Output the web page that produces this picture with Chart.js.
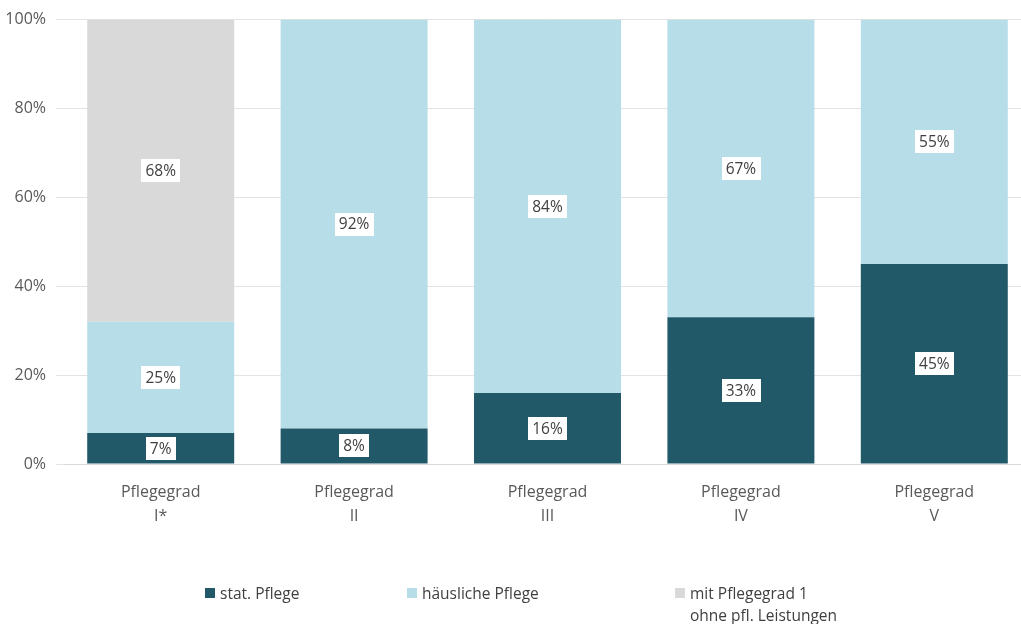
<!DOCTYPE html>
<html lang="de">
<head>
<meta charset="utf-8">
<script src="https://cdn.jsdelivr.net/npm/chart.js@4/dist/chart.umd.min.js"></script>
<style>
  html, body { margin: 0; padding: 0; background: #fff; overflow: hidden; }
  #wrap { position: relative; width: 1031px; height: 624px; }
  #legend { position: absolute; top: 582px; left: 0; width: 1021px; height: 42px;
            font-family: 'Open Sans', 'Noto Sans', sans-serif; font-size: 15.5px; color: #404040; }
  .lg-item { position: absolute; top: 0; display: flex; align-items: flex-start; line-height: 22px; }
  .lg-box { width: 10px; height: 10px; margin: 6px 5px 0 0; flex: none; }
</style>
</head>
<body>
<div id="wrap">
  <canvas id="chart" width="1031" height="624"></canvas>
  <div id="legend"></div>
</div>
<script>
// Anteil der Pflegebedürftigen nach Versorgungsart, je Pflegegrad
const CATEGORIES = [
  ['Pflegegrad', 'I*'],
  ['Pflegegrad', 'II'],
  ['Pflegegrad', 'III'],
  ['Pflegegrad', 'IV'],
  ['Pflegegrad', 'V'],
];
const STAT_PFLEGE      = [7, 8, 16, 33, 45];
const HAEUSL_PFLEGE    = [25, 92, 84, 67, 55];
const OHNE_LEISTUNGEN  = [68, 0, 0, 0, 0];
const SERIES_NAMES     = ['stat. Pflege', 'häusliche Pflege', ['mit Pflegegrad 1', 'ohne pfl. Leistungen']];
const COLORS           = ['#215968', '#b7dde8', '#d9d9d9'];
const Y_TICKS          = [0, 20, 40, 60, 80, 100];

const FONT = "'Open Sans', 'Noto Sans', sans-serif";

// Wertebeschriftung: weißes Kästchen mittig im Segment
const boxLabels = {
  id: 'boxLabels',
  afterDatasetsDraw(chart) {
    const ctx = chart.ctx;
    ctx.save();
    ctx.font = '15.5px ' + FONT;
    ctx.textAlign = 'center';
    ctx.textBaseline = 'middle';
    chart.data.datasets.forEach((ds, di) => {
      const meta = chart.getDatasetMeta(di);
      meta.data.forEach((bar, i) => {
        const v = ds.data[i];
        if (!v) return;
        const txt = v + '%';
        const cy = (bar.y + bar.base) / 2;
        const w = ctx.measureText(txt).width + 8;
        const h = 23;
        ctx.fillStyle = '#fff';
        ctx.fillRect(Math.round(bar.x - w / 2), Math.round(cy - h / 2), Math.round(w), h);
        ctx.fillStyle = '#404040';
        ctx.fillText(txt, bar.x, cy + 1);
      });
    });
    ctx.restore();
  },
};

new Chart(document.getElementById('chart'), {
  type: 'bar',
  data: {
    labels: CATEGORIES,
    datasets: [
      { label: 'stat. Pflege', data: STAT_PFLEGE, backgroundColor: COLORS[0] },
      { label: 'häusliche Pflege', data: HAEUSL_PFLEGE, backgroundColor: COLORS[1] },
      { label: 'mit Pflegegrad 1 ohne pfl. Leistungen', data: OHNE_LEISTUNGEN, backgroundColor: COLORS[2] },
    ],
  },
  options: {
    responsive: false,
    animation: false,
    devicePixelRatio: 1,
    layout: { padding: { top: 12, left: 0, right: 0, bottom: 0 } },
    datasets: { bar: { barPercentage: 0.76, categoryPercentage: 1, borderWidth: 0 } },
    plugins: { legend: { display: false }, tooltip: { enabled: false } },
    scales: {
      x: {
        stacked: true,
        grid: { display: false },
        border: { color: '#d9d9d9' },
        ticks: { color: '#595959', font: { family: FONT, size: 16, lineHeight: 1.5 }, padding: 8 },
        afterFit: s => { s.height = 160; },
      },
      y: {
        stacked: true,
        min: 0, max: 100,
        afterBuildTicks: s => { s.ticks = Y_TICKS.map(v => ({ value: v })); },
        grid: { color: '#e3e3e3' },
        border: { display: false },
        ticks: { color: '#595959', font: { family: FONT, size: 16 }, padding: 10, callback: v => v + '%' },
        afterFit: s => { s.width = 64; },
      },
    },
  },
  plugins: [boxLabels],
});

// Legende unten
const LEGEND_X = [205, 407, 675];
const legend = document.getElementById('legend');
SERIES_NAMES.forEach((name, i) => {
  const lines = Array.isArray(name) ? name : [name];
  legend.insertAdjacentHTML('beforeend',
    `<div class="lg-item" style="left:${LEGEND_X[i]}px">
       <span class="lg-box" style="background:${COLORS[i]}"></span>
       <span>${lines.join('<br>')}</span>
     </div>`);
});
</script>
</body>
</html>
